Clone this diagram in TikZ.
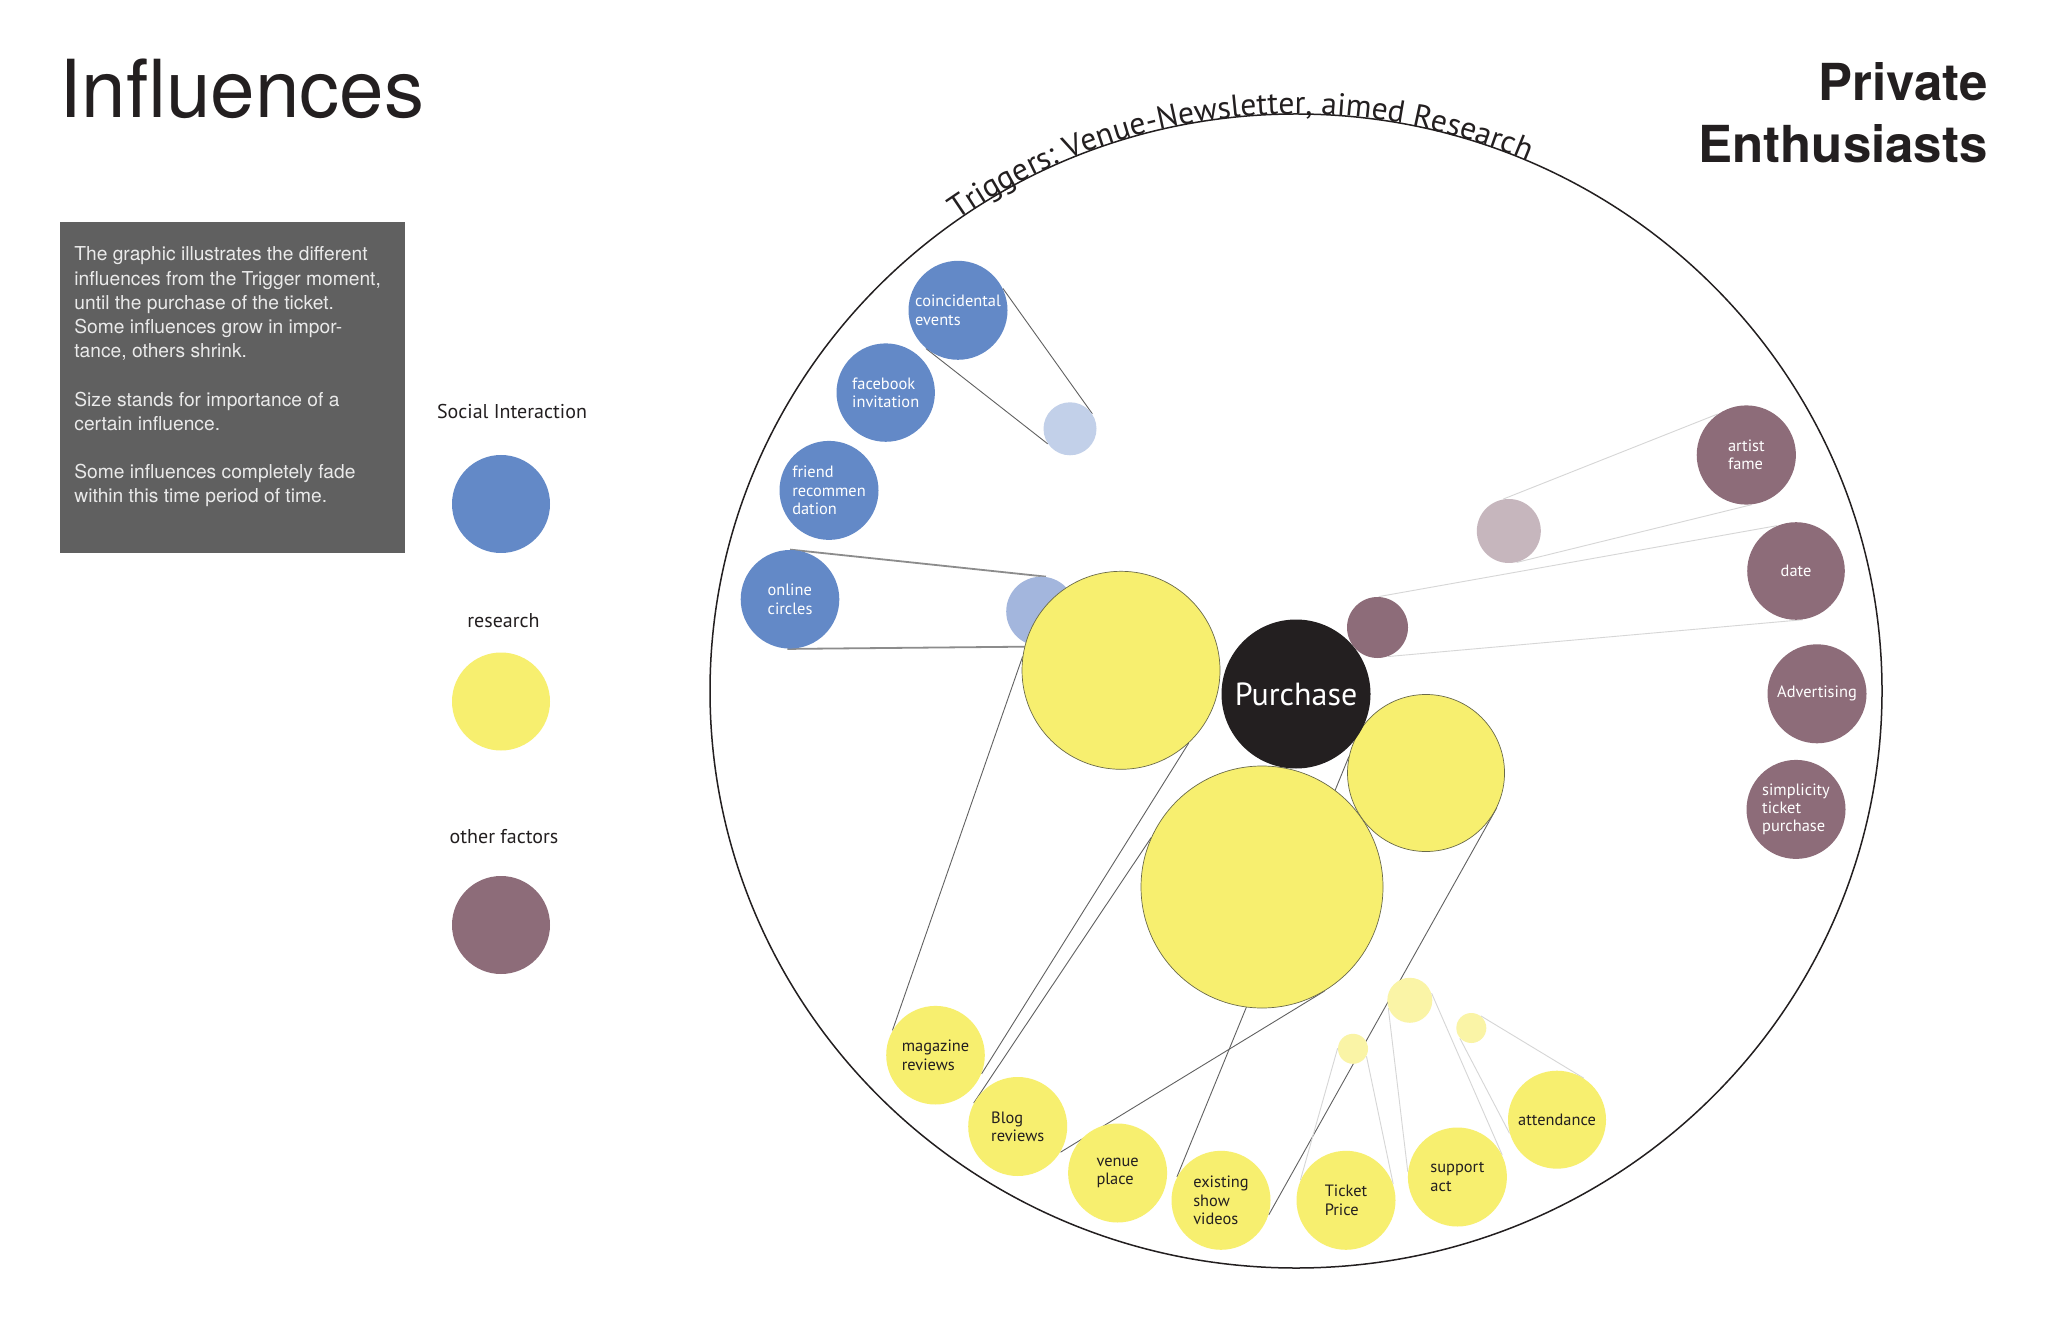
\documentclass[tikz,border=0pt]{standalone}
\usepackage{fontspec}
\setmainfont{PT Sans}
\newfontfamily\helv{TeX Gyre Heros}
\usetikzlibrary{decorations.text}
\pgfdeclarelayer{bg}
\pgfsetlayers{bg,main}
\definecolor{cblue}{HTML}{6389C7}
\definecolor{cblueL}{HTML}{C2D0E9}
\definecolor{cblueM}{HTML}{A3B6DD}
\definecolor{cyel}{HTML}{F7EF6F}
\definecolor{cyelP}{HTML}{FAF4A6}
\definecolor{cmauve}{HTML}{8D6C79}
\definecolor{cmauveL}{HTML}{C6B6BD}
\definecolor{cdark}{HTML}{231F20}
\definecolor{cbox}{HTML}{606060}
\definecolor{cboxtxt}{HTML}{EAEAEA}
\definecolor{coutline}{HTML}{6A6A4A}
\begin{document}
\begin{tikzpicture}[x=0.5pt,y=0.5pt,
  bub/.style={circle, inner sep=0pt, minimum size=#1pt, align=left,
              font=\fontsize{8.2}{9.2}\selectfont},
  blueb/.style={bub=#1, fill=cblue, text=white},
  yelb/.style={bub=#1, fill=cyel, text=cdark},
  bigyel/.style={bub=#1, fill=cyel, draw=coutline, line width=0.35pt},
  mauveb/.style={bub=#1, fill=cmauve, text=white},
  plain/.style={bub=#1},
  legendlab/.style={inner sep=0pt, font=\fontsize{10}{12}\selectfont, text=cdark},
  coneline/.style={draw=black!62, line width=0.45pt},
  thickline/.style={draw=black!45, line width=0.9pt},
  faintline/.style={draw=black!16, line width=0.45pt}
]
\useasboundingbox (0,0) rectangle (2048,-1325);

% ---------- titles ----------
\node[anchor=base west, inner sep=0pt, font=\helv\fontsize{40}{48}\selectfont, text=cdark]
  (title) at (59,-118) {Influences};
\node[anchor=north east, inner sep=0pt, align=right, font=\helv\bfseries\fontsize{25.5}{31}\selectfont, text=cdark]
  (group) at (1988,-62) {Private\\Enthusiasts};

% ---------- description box ----------
\node[anchor=north west, inner sep=0pt, minimum width=172.5pt, minimum height=165.5pt, fill=cbox]
  (box) at (60,-222) {};
\node[anchor=north west, inner sep=0pt, align=left, text=cboxtxt,
      font=\helv\fontsize{9.6}{12.1}\selectfont]
  (boxtext) at (74,-246.5)
  {The graphic illustrates the different\\
   influences from the Trigger moment,\\
   until the purchase of the ticket.\\
   Some influences grow in impor-\\
   tance, others shrink.\\[12.1pt]
   Size stands for importance of a\\
   certain influence.\\[12.1pt]
   Some influences completely fade\\
   within this time period of time.};

% ---------- legend ----------
\node[legendlab] (lsoc) at (512,-411.6) {Social Interaction};
\node[plain=49, fill=cblue] (lblue) at (501,-504) {};
\node[legendlab] (lres) at (503.5,-621) {research};
\node[plain=49, fill=cyel] (lyel) at (501,-701.5) {};
\node[legendlab] (loth) at (504,-837) {other factors};
\node[plain=49, fill=cmauve] (lmau) at (501,-925) {};

% ---------- social interaction bubbles ----------
\node[blueb=49.5] (coinc) at (958,-310.3) {coincidental\\events};
\node[blueb=49.2] (fb) at (885.7,-392.6) {facebook\\invitation};
\node[blueb=49.5] (friend) at (829,-490.4) {friend\\recommen\\dation};
\node[blueb=49.3] (online) at (790,-599.3) {online\\circles};
\node[plain=26.5, fill=cblueL] (sblueA) at (1070,-428.8) {};
\node[plain=34.8, fill=cblueM] (sblueB) at (1041,-611.5) {};

% ---------- research bubbles ----------
\node[bigyel=99] (yA) at (1121,-670.3) {};
\node[bigyel=121] (yC) at (1262,-887) {};
\node[bigyel=78.5] (yB) at (1426,-773) {};
\node[yelb=49.3] (mag) at (935.5,-1055.2) {magazine\\reviews};
\node[yelb=49.5] (blog) at (1017.7,-1126.5) {Blog\\reviews};
\node[yelb=49.5] (venue) at (1117.6,-1173) {venue\\place};
\node[yelb=49.5] (exist) at (1221,-1200.3) {existing\\show\\videos};
\node[yelb=49.5] (ticket) at (1346,-1200.3) {Ticket\\Price};
\node[yelb=49.5] (support) at (1457.4,-1177) {support\\act};
\node[yelb=49] (attend) at (1557,-1119.7) {attendance};
\node[plain=22.5, fill=cyelP] (pyA) at (1409.8,-1000.3) {};
\node[plain=15, fill=cyelP] (pyB) at (1471.3,-1028) {};
\node[plain=15, fill=cyelP] (pyC) at (1353,-1048.8) {};

% ---------- other factors ----------
\node[mauveb=49.6] (artist) at (1746.3,-455) {artist\\fame};
\node[mauveb=48.8] (date) at (1796,-571) {date};
\node[mauveb=49.5] (advert) at (1817,-693.8) {Advertising};
\node[mauveb=49.5] (simpl) at (1796,-809.4) {simplicity\\ticket\\purchase};
\node[plain=32, fill=cmauveL] (mauveA) at (1508.8,-531) {};
\node[plain=30.5, fill=cmauve] (mauveB) at (1377.5,-627.5) {};

% ---------- purchase ----------
\node[bub=74.5, fill=cdark, text=white, font=\fontsize{16}{18}\selectfont] (purchase) at (1296,-694) {Purchase};

\begin{pgfonlayer}{bg}
  \fill[white] (0,0) rectangle (2048,-1325);
  \draw[line width=0.75pt, cdark] (1296,-691) ellipse [x radius=586, y radius=577];
  \path[decorate, decoration={text along path, text align=center,
        text={|\fontsize{15.8}{19}\selectfont\color{cdark}|Triggers: Venue-Newsletter, aimed Research}}]
     (1296,-691) ++(130:586 and 577) arc[start angle=130, end angle=62, x radius=586, y radius=577];
  % cones
  \draw[coneline] (coinc.26) -- (sblueA.34);
  \draw[coneline] (coinc.-130) -- (sblueA.-146);
  \draw[thickline] (online.90) -- (sblueB.82);
  \draw[thickline] (online.-93) -- (sblueB.-95);
  \draw[coneline] (yA.172) -- (mag.150);
  \draw[coneline] (yA.-47) -- (mag.-22);
  \draw[coneline] (yC.156) -- (blog.152);
  \draw[coneline] (yC.-59) -- (blog.-31);
  \draw[coneline] (yB.168) -- (exist.152);
  \draw[coneline] (yB.-26) -- (exist.-17);
  \draw[faintline] (mauveA.100) -- (artist.125);
  \draw[faintline] (mauveA.-76) -- (artist.-84);
  \draw[faintline] (mauveB.88) -- (date.113);
  \draw[faintline] (mauveB.-70) -- (date.-82);
  \draw[faintline] (pyC.178) -- (ticket.156);
  \draw[faintline] (pyC.-29) -- (ticket.19);
  \draw[faintline] (pyA.200) -- (support.174);
  \draw[faintline] (pyA.18) -- (support.26);
  \draw[faintline] (pyB.52) -- (attend.57);
  \draw[faintline] (pyB.-138) -- (attend.-164);
\end{pgfonlayer}
\end{tikzpicture}
\end{document}
